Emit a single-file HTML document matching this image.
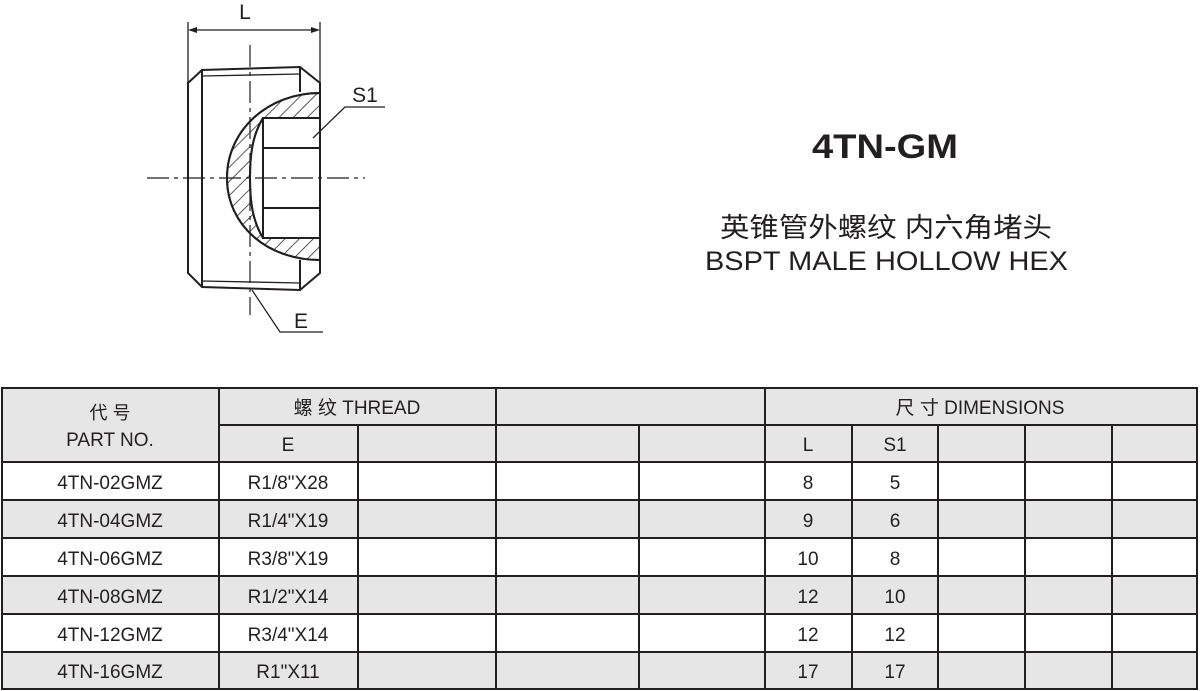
<!DOCTYPE html>
<html><head><meta charset="utf-8"><style>
html,body{margin:0;padding:0;background:#fff;width:1200px;height:691px;overflow:hidden}
svg text{font-family:"Liberation Sans","Noto Sans CJK SC",sans-serif;fill:#231f20}
</style></head><body>
<svg width="1200" height="691" viewBox="0 0 1200 691" xmlns="http://www.w3.org/2000/svg">
<defs>
<pattern id="h" width="10" height="10" patternUnits="userSpaceOnUse" patternTransform="rotate(45)">
<line x1="0" y1="0" x2="0" y2="10" stroke="#231f20" stroke-width="1.5"/>
</pattern>
</defs>
<g stroke="#231f20" fill="none" stroke-width="2">
<line x1="188" y1="22" x2="188" y2="83" stroke-width="1.3"/>
<line x1="320" y1="22" x2="320" y2="83" stroke-width="1.3"/>
<line x1="190" y1="30" x2="318" y2="30" stroke-width="1.3"/>
<path d="M188 30 l9 -3 v6 z M320 30 l-9 -3 v6 z" fill="#231f20" stroke="none"/>
<path d="M320 93 C 268 93 227 130 227 178 C 227 226 268 260 320 260 L320 238 L263 238 C 252 220 250 200 250 178 C 250 156 252 136 263 118 L320 118 Z" fill="url(#h)"/>
<path d="M320 93 C 268 93 227 130 227 178 C 227 226 268 260 320 260"/>
<path d="M263 118 C 252 136 250 156 250 178 C 250 200 252 220 263 238"/>
<path d="M320 118 H263 V238 H320"/>
<line x1="263" y1="148" x2="320" y2="148"/>
<line x1="263" y1="208" x2="320" y2="208"/>
<path d="M188 83 L202 70 L300 67 L320 83 V273 L300 290 L202 287 L188 273 Z"/>
<line x1="202" y1="70" x2="202" y2="287"/>
<line x1="202" y1="76" x2="300" y2="74" stroke-width="1.3"/>
<line x1="202" y1="281" x2="300" y2="283" stroke-width="1.3"/>
<line x1="300" y1="67" x2="300" y2="92"/>
<line x1="300" y1="260" x2="300" y2="290"/>
<line x1="147" y1="178" x2="365" y2="178" stroke-width="1.2" stroke-dasharray="22,5,4,5"/>
<line x1="250" y1="45" x2="250" y2="315" stroke-width="1.2" stroke-dasharray="22,5,4,5"/>
<polyline points="313,138 345,107 385,107" stroke-width="1.3"/>
<polyline points="252,290 280,332 323,332" stroke-width="1.3"/>
</g>
<text x="245" y="19" font-size="21" text-anchor="middle">L</text>
<text x="365" y="102" font-size="21" text-anchor="middle">S1</text>
<text x="301" y="328" font-size="21" text-anchor="middle">E</text>
<text x="812" y="158" font-size="34" font-weight="bold" textLength="146" lengthAdjust="spacingAndGlyphs">4TN-GM</text>
<text x="720" y="237" font-size="27" textLength="332" lengthAdjust="spacingAndGlyphs">英锥管外螺纹  内六角堵头</text>
<text x="705" y="270" font-size="27" textLength="363" lengthAdjust="spacingAndGlyphs">BSPT MALE HOLLOW HEX</text>
<rect x="2" y="388" width="1195" height="74" fill="#e6e6e6"/>
<rect x="2" y="500" width="1195" height="38" fill="#e6e6e6"/>
<rect x="2" y="576" width="1195" height="38" fill="#e6e6e6"/>
<rect x="2" y="652" width="1195" height="37" fill="#e6e6e6"/>
<g stroke="#231f20" stroke-width="2" fill="none">
<rect x="2" y="388" width="1195" height="301"/>
<line x1="219" y1="425" x2="1197" y2="425"/>
<line x1="2" y1="462" x2="1197" y2="462"/>
<line x1="2" y1="500" x2="1197" y2="500"/>
<line x1="2" y1="538" x2="1197" y2="538"/>
<line x1="2" y1="576" x2="1197" y2="576"/>
<line x1="2" y1="614" x2="1197" y2="614"/>
<line x1="2" y1="652" x2="1197" y2="652"/>
<line x1="219" y1="388" x2="219" y2="689"/>
<line x1="496" y1="388" x2="496" y2="689"/>
<line x1="765" y1="388" x2="765" y2="689"/>
<line x1="358" y1="425" x2="358" y2="689"/>
<line x1="639" y1="425" x2="639" y2="689"/>
<line x1="852" y1="425" x2="852" y2="689"/>
<line x1="938" y1="425" x2="938" y2="689"/>
<line x1="1025" y1="425" x2="1025" y2="689"/>
<line x1="1112" y1="425" x2="1112" y2="689"/>
</g>
<g font-size="19" text-anchor="middle">
<text x="110" y="419" font-size="18">代 号</text>
<text x="110" y="446">PART NO.</text>
<text x="357" y="414">螺 纹 THREAD</text>
<text x="980" y="414">尺 寸  DIMENSIONS</text>
<text x="288" y="451">E</text>
<text x="808" y="451">L</text>
<text x="895" y="451">S1</text>
<text x="110" y="489">4TN-02GMZ</text><text x="288" y="489">R1/8"X28</text><text x="808" y="489">8</text><text x="895" y="489">5</text>
<text x="110" y="527">4TN-04GMZ</text><text x="288" y="527">R1/4"X19</text><text x="808" y="527">9</text><text x="895" y="527">6</text>
<text x="110" y="565">4TN-06GMZ</text><text x="288" y="565">R3/8"X19</text><text x="808" y="565">10</text><text x="895" y="565">8</text>
<text x="110" y="603">4TN-08GMZ</text><text x="288" y="603">R1/2"X14</text><text x="808" y="603">12</text><text x="895" y="603">10</text>
<text x="110" y="641">4TN-12GMZ</text><text x="288" y="641">R3/4"X14</text><text x="808" y="641">12</text><text x="895" y="641">12</text>
<text x="110" y="678">4TN-16GMZ</text><text x="288" y="678">R1"X11</text><text x="808" y="678">17</text><text x="895" y="678">17</text>
</g>
</svg>
</body></html>
